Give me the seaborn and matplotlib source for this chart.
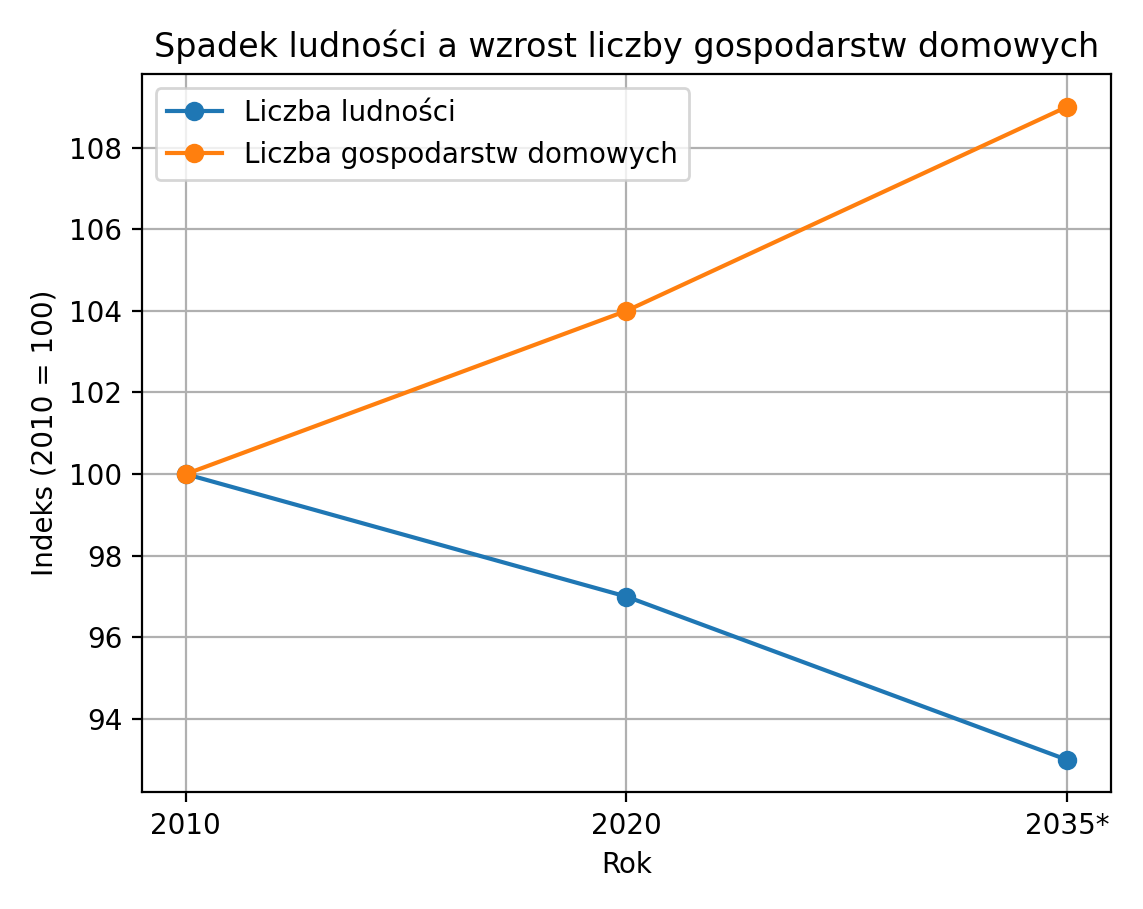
import matplotlib
matplotlib.use("Agg")
import matplotlib.pyplot as plt
import seaborn as sns
import pandas as pd

years = ["2010", "2020", "2035*"]
population = [100, 97, 93]
households = [100, 104, 109]

df = pd.DataFrame({
    "pos": list(range(len(years))) * 2,
    "val": population + households,
    "series": ["Liczba ludności"] * 3 + ["Liczba gospodarstw domowych"] * 3,
})

fig, ax = plt.subplots(figsize=(5.715, 4.545), dpi=200)
sns.lineplot(data=df, x="pos", y="val", hue="series", marker="o", markersize=7,
             markeredgewidth=0, palette=["#1f77b4", "#ff7f0e"], ax=ax)
ax.set_xticks(range(len(years)))
ax.set_xticklabels(years)
ax.set_xlabel("Rok")
ax.set_ylabel("Indeks (2010 = 100)")
ax.set_title("Spadek ludności a wzrost liczby gospodarstw domowych")
ax.grid(True, color="#b0b0b0", linewidth=0.8)
ax.legend(title=None, loc="upper left")
fig.tight_layout()
fig.savefig("out.png", dpi=200)
